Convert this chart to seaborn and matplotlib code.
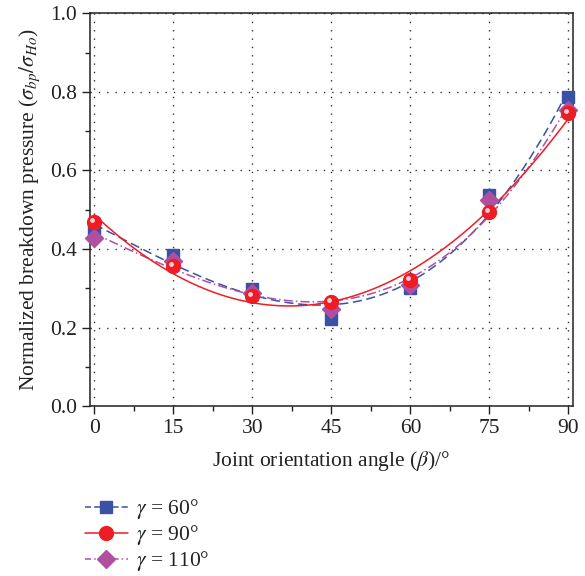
import numpy as np
import pandas as pd
import matplotlib
matplotlib.use('Agg')
import matplotlib.pyplot as plt
import matplotlib.transforms as mtransforms
from matplotlib.lines import Line2D
from matplotlib.ticker import MultipleLocator
import seaborn as sns

# Dados
beta = [0, 15, 30, 45, 60, 75, 90]
p_60 = [0.450, 0.384, 0.297, 0.221, 0.300, 0.537, 0.787]
p_90 = [0.469, 0.356, 0.281, 0.264, 0.321, 0.494, 0.745]
p_110 = [0.429, 0.370, 0.288, 0.246, 0.308, 0.524, 0.753]
labels = [r'$\gamma$ = 60°', r'$\gamma$ = 90°', r'$\gamma$ = 110°']

df = pd.DataFrame({'beta': beta, 'g60': p_60, 'g90': p_90, 'g110': p_110})

sns.set_style('ticks')
plt.rcParams['font.family'] = ['Liberation Serif', 'DejaVu Serif']
plt.rcParams['mathtext.fontset'] = 'stix'

fig = plt.figure(figsize=(5.85, 5.76), dpi=100)
ax = fig.add_axes([0.154, 0.295, 0.825, 0.682])

c_blue = '#3a52a3'
c_red = '#ee1c25'
c_purple = '#b04fa0'

series = [
    ('g60', c_blue, 's', (0, (6, 3)), 9, 3),
    ('g110', c_purple, 'D', (0, (6, 2, 1, 2)), 9, 3),
    ('g90', c_red, 'o', '-', 10, 2),
]
for col, c, m, ls, ms, order in series:
    sns.regplot(data=df, x='beta', y=col, order=order, ci=None, ax=ax,
                scatter=False, line_kws={'color': c, 'lw': 1.1, 'ls': ls})
for col, c, m, ls, ms, order in series:
    ax.plot(df['beta'], df[col], ls='none', marker=m, ms=ms, color=c,
            mec=c, zorder=5, clip_on=False)

# brilho nos marcadores vermelhos
shift = mtransforms.ScaledTranslation(-1.5 / 72, 1.5 / 72, fig.dpi_scale_trans)
ax.plot(df['beta'], df['g90'], ls='none', marker='o', ms=3.5, color='#fbd0d0',
        mec='none', zorder=6, clip_on=False, transform=ax.transData + shift)

ax.set_xlim(-0.8, 90.8)
ax.set_ylim(0, 1.0)
ax.set_xticks(beta)
ax.set_yticks([0.0, 0.2, 0.4, 0.6, 0.8, 1.0])
ax.set_yticklabels(['0.0', '0.2', '0.4', '0.6', '0.8', '1.0'])
ax.xaxis.set_minor_locator(MultipleLocator(7.5))
ax.yaxis.set_minor_locator(MultipleLocator(0.1))
ax.tick_params(which='major', direction='out', length=6, width=1, labelsize=15.5,
               color='#222222', labelcolor='#222222')
ax.tick_params(which='minor', direction='out', length=3.5, width=1, color='#222222')
ax.grid(True, which='major', ls=(0, (1, 5)), color='#333333', lw=1.0)
for s in ax.spines.values():
    s.set_linewidth(1.1)
    s.set_color('#222222')

ax.set_xlabel(r'Joint orientation angle ($\beta$)/°', fontsize=15.5, color='#222222', labelpad=8)
ax.set_ylabel(r'Normalized breakdown pressure ($\sigma_{bp}/\sigma_{Ho}$)', fontsize=15.5,
              color='#222222', labelpad=6)

handles = [
    Line2D([], [], color=c_blue, ls=(0, (4, 2)), lw=1.1, marker='s', ms=9),
    Line2D([], [], color=c_red, ls='-', lw=1.1, marker='o', ms=10),
    Line2D([], [], color=c_purple, ls=(0, (4, 2, 1, 2)), lw=1.1, marker='D', ms=9),
]
fig.legend(handles, labels, loc='upper left', bbox_to_anchor=(0.13, 0.152),
           frameon=False, fontsize=15.5, handlelength=2.0, handletextpad=0.4,
           labelspacing=0.1, borderaxespad=0, labelcolor='#222222')

fig.savefig('out.png', dpi=100)
